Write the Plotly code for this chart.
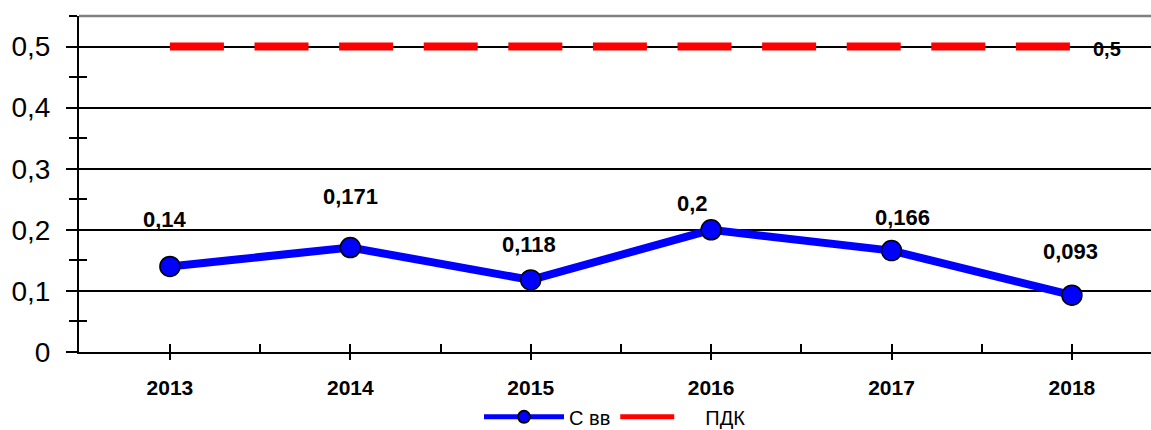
import plotly.graph_objects as go

years = ["2013", "2014", "2015", "2016", "2017", "2018"]
c_vv = [0.14, 0.171, 0.118, 0.2, 0.166, 0.093]
pdk = [0.5, 0.5, 0.5, 0.5, 0.5, 0.5]
name_cvv = "С вв"
name_pdk = "ПДК"

# label offsets (style only), px
lab_dx = [-5, 0, -2, -19, 11, -1]
lab_dy = [47, 51, 35, 26, 33, 44]

FONT = "Liberation Sans, Arial, sans-serif"

def fmt(v):
    return ("%g" % v).replace(".", ",")

fig = go.Figure()
fig.add_trace(go.Scatter(
    x=years, y=c_vv, name=name_cvv, mode="lines+markers",
    line=dict(color="#0000FF", width=8),
    marker=dict(size=20, color="#0000FF", line=dict(color="black", width=1.5)),
))
fig.add_trace(go.Scatter(
    x=years, y=pdk, name=name_pdk, mode="lines",
    line=dict(color="#FF0000", width=8, dash="54px,30.6px"),
))
# overlay axes carrying the inner halves of the cross tick marks
fig.add_trace(go.Scatter(x=[], y=[], xaxis="x2", yaxis="y2", showlegend=False, hoverinfo="skip"))

annotations = []
for i, v in enumerate(c_vv):
    annotations.append(dict(
        x=i, y=v, xref="x2", yref="y2", text="<b>" + fmt(v) + "</b>", showarrow=False,
        xshift=lab_dx[i], yshift=lab_dy[i],
        font=dict(family=FONT, size=22, color="black"),
    ))
annotations.append(dict(
    x=len(pdk) - 1, y=pdk[-1], xref="x2", yref="y2", text="<b>" + fmt(pdk[-1]) + "</b>",
    showarrow=False, xshift=35, yshift=-2,
    font=dict(family=FONT, size=20, color="black"),
))

W, H = 1151, 430
ML, MT, MB = 79, 16, 78
px_per_cat = 180.4
x0 = -0.504
xr = [x0, x0 + (W - ML) / px_per_cat]
y_range = [0, 0.55]
n = len(years)

fig.update_layout(
    width=W, height=H, autosize=False,
    margin=dict(l=ML, r=0, t=MT, b=MB, pad=0, autoexpand=False),
    paper_bgcolor="white", plot_bgcolor="white",
    separators=", ",
    font=dict(family=FONT, color="black"),
    showlegend=True,
    legend=dict(orientation="h", x=0.5, xanchor="center",
                y=-0.193, yanchor="middle",
                font=dict(family=FONT, size=20, color="black"), itemwidth=80,
                itemsizing="constant", bgcolor="rgba(0,0,0,0)", traceorder="normal"),
    xaxis=dict(
        type="category", range=xr, showgrid=False, zeroline=False,
        showline=True, linecolor="black", linewidth=2,
        ticks="outside", ticklen=6, tickwidth=2, tickcolor="black",
        tickfont=dict(family=FONT, size=21, color="black", weight="bold"),
        ticklabelstandoff=10,
    ),
    xaxis2=dict(
        type="linear", range=xr, overlaying="x", anchor="y2", side="bottom",
        showgrid=False, zeroline=False, showline=False, showticklabels=False,
        tickmode="array", tickvals=[i * 0.5 for i in range(2 * n - 1)],
        ticks="inside", ticklen=8, tickwidth=2, tickcolor="black",
    ),
    yaxis=dict(
        range=y_range, dtick=0.1, tick0=0, showgrid=True, gridcolor="black", gridwidth=1.5,
        zeroline=False, showline=True, linecolor="black", linewidth=2,
        ticks="outside", ticklen=11, tickwidth=2, tickcolor="black",
        minor=dict(ticks="outside", ticklen=8, dtick=0.05, tickwidth=2, tickcolor="black", showgrid=False),
        tickfont=dict(family=FONT, size=28, color="black"),
        ticklabelstandoff=10,
    ),
    yaxis2=dict(
        range=y_range, overlaying="y", anchor="x2", side="left",
        showgrid=False, zeroline=False, showline=False, showticklabels=False,
        dtick=0.05, tick0=0, ticks="inside", ticklen=8, tickwidth=2, tickcolor="black",
    ),
    shapes=[dict(type="line", xref="paper", yref="paper", x0=0, x1=1, y0=1, y1=1,
                 line=dict(color="#808080", width=2.5))],
    annotations=annotations,
)

fig.write_html(
    "out.html",
    config={"displayModeBar": False},
    post_script="document.body.style.margin='0';document.body.style.overflow='hidden';",
)
